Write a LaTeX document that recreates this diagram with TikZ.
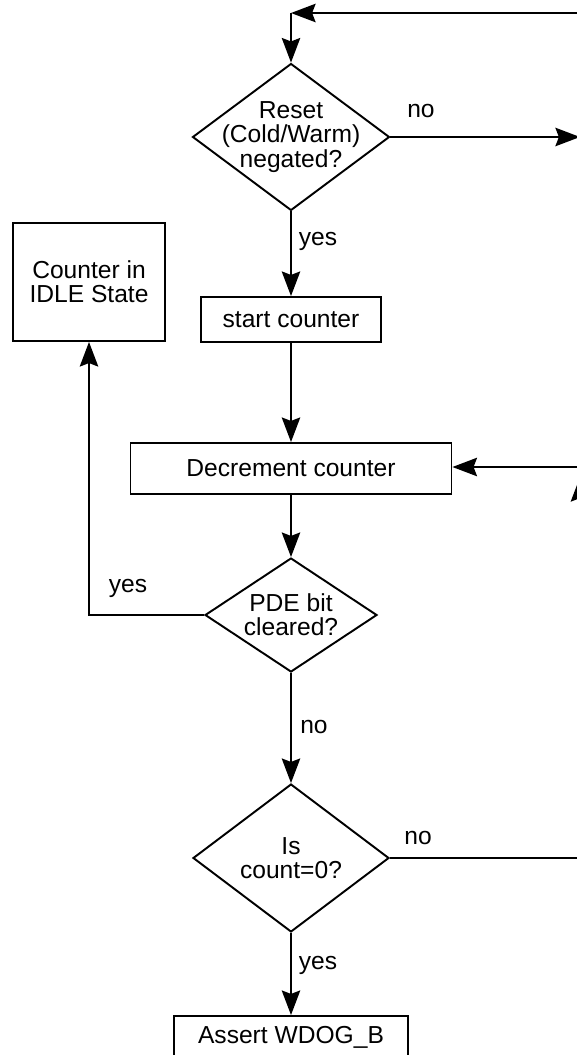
\documentclass[tikz,border=0pt]{standalone}
\usepackage{fontspec}
\setmainfont{Liberation Sans}
\usetikzlibrary{shapes.geometric,arrows.meta}
\begin{document}
\begin{tikzpicture}[x=0.02cm, y=-0.02cm, line width=1.1pt,
  font=\fontsize{14}{13.8}\selectfont,
  decision/.style={diamond, draw, inner sep=0pt, label={[align=center]center:#1}},
  procbox/.style={draw, rectangle, align=center, inner sep=0pt},
  lbl/.style={inner sep=0pt},
  arr/.style={-{Stealth[length=14pt, width=10.5pt, inset=2pt]}}]
\clip (0,0) rectangle (577,1055);
\node[decision={Reset\\(Cold/Warm)\\negated?}, minimum width=3.94cm, minimum height=2.94cm] (reset) at (291,137) {};
\node[procbox, minimum width=3.6cm, minimum height=0.9cm] (start) at (291,319.5) {start counter};
\node[procbox, minimum width=6.42cm, minimum height=1.02cm] (dec) at (291,468.5) {Decrement counter};
\node[decision={PDE bit\\cleared?}, minimum width=3.44cm, minimum height=2.28cm] (pde) at (291,615) {};
\node[decision={Is\\count=0?}, minimum width=3.92cm, minimum height=2.96cm] (count) at (291,858) {};
\node[procbox, minimum width=3.04cm, minimum height=2.36cm] (idle) at (89,282) {Counter in\\IDLE State};
\node[procbox, minimum width=4.68cm, minimum height=0.86cm] (wdog) at (291,1037.5) {Assert WDOG\_B};
\coordinate (topR) at (600,13);
\coordinate (topL) at (291,13);
\coordinate (resetR) at (580,137);
\coordinate (loopB) at (580,858);
\coordinate (loopT) at (580,477);
\coordinate (decR) at (580,467);
\node[lbl] (noA) at (421,111) {no};
\node[lbl] (yesA) at (318,241) {yes};
\node[lbl] (yesB) at (128,588) {yes};
\node[lbl] (noB) at (314,727) {no};
\node[lbl] (noC) at (418,838) {no};
\node[lbl] (yesC) at (318,965) {yes};
\draw[arr] (topR) -- (topL);
\draw[arr] (topL) -- (reset.north);
\draw[arr] (reset.east) -- (resetR);
\draw[arr] (reset.south) -- (start.north);
\draw[arr] (start.south) -- (dec.north);
\draw[arr] (dec.south) -- (pde.north);
\draw[arr] (pde.west) -| (idle.south);
\draw[arr] (pde.south) -- (count.north);
\draw[arr] (count.south) -- (wdog.north);
\draw[arr] (count.east) -- (loopB) -- (loopT);
\draw[arr] (decR) -- (dec.east |- decR);
\end{tikzpicture}
\end{document}
